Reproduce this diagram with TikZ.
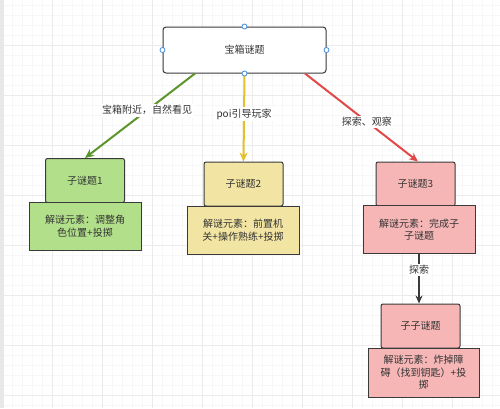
\documentclass[tikz,border=0pt]{standalone}
\usepackage{fontspec}
\setmainfont{Noto Sans CJK SC}
\usetikzlibrary{arrows.meta}
\definecolor{boxline}{HTML}{3a3a3a}
\definecolor{labeltext}{HTML}{333333}
\definecolor{greenfill}{RGB}{178,224,138}
\definecolor{yellowfill}{RGB}{242,228,162}
\definecolor{redfill}{RGB}{246,182,182}
\definecolor{greenline}{RGB}{92,150,42}
\definecolor{yellowline}{RGB}{230,192,40}
\definecolor{redline}{RGB}{226,72,72}
\definecolor{handle}{RGB}{70,140,215}
\begin{document}
\begin{tikzpicture}[x=1pt,y=-1pt,
    box/.style={draw=boxline,line width=1pt,inner sep=0pt,text=labeltext,
      font=\fontsize{10}{12.5}\selectfont,align=center},
    titlebox/.style={box,rounded corners=2pt,minimum width=79pt,minimum height=44pt},
    infobox/.style={box,minimum width=112pt,minimum height=48pt},
    link/.style={line width=2pt,-{Stealth[length=9pt,width=8pt]}},
    linklabel/.style={fill=white,text=labeltext,inner sep=1.5pt,font=\fontsize{10}{12}\selectfont},
    dot/.style={circle,draw=handle,fill=white,line width=0.8pt,inner sep=0pt,minimum size=5pt}]
  % background and grid
  \useasboundingbox (0,0) rectangle (500,408);
  \fill[white] (0,0) rectangle (500,408);
  \foreach \x in {2,12,...,492} \draw[black!3,line width=0.5pt] (\x,0) -- (\x,408);
  \foreach \y in {5,15,...,405} \draw[black!3,line width=0.5pt] (0,\y) -- (500,\y);
  \foreach \x in {2,52,...,452} \draw[black!8,line width=0.6pt] (\x,0) -- (\x,408);
  \foreach \y in {45,95,...,395} \draw[black!8,line width=0.6pt] (0,\y) -- (500,\y);
  \fill[black!9] (0,0) rectangle (4,408);

  % main puzzle
  \node[box,rounded corners=3pt,fill=white,minimum width=163pt,minimum height=46pt]
    (main) at (244.5,50) {宝箱谜题};

  % sub puzzles
  \node[titlebox,fill=greenfill] (suba) at (85,180.5) {子谜题1};
  \node[infobox,fill=greenfill] (suba info) at (85,226) {解谜元素：调整角\\色位置+投掷};
  \node[titlebox,fill=yellowfill] (subb) at (243.5,184) {子谜题2};
  \node[infobox,fill=yellowfill] (subb info) at (243,230) {解谜元素：前置机\\关+操作熟练+投掷};
  \node[titlebox,fill=redfill] (subc) at (415.5,184) {子谜题3};
  \node[infobox,fill=redfill] (subc info) at (419,229.5) {解谜元素：完成子\\子谜题};
  \node[titlebox,fill=redfill] (subsub) at (420.5,326) {子子谜题};
  \node[infobox,fill=redfill,minimum width=111pt,minimum height=49pt]
    (subsub info) at (423.5,372.5) {解谜元素：炸掉障\\碍（找到钥匙）+投\\掷};

  % links
  \draw[link,greenline] ([xshift=-49.5pt]main.south) -- (suba.north)
    node[linklabel,pos=0.435] {宝箱附近，自然看见};
  \draw[link,yellowline] (main.south) -- (subb.north)
    node[linklabel,pos=0.46] {poi引导玩家};
  \draw[link,redline] ([xshift=60.5pt]main.south) -- ([xshift=2.5pt]subc.north)
    node[linklabel,pos=0.547] {探索、观察};
  \draw[boxline,line width=1.2pt,-{Stealth[length=8pt,width=7pt]}] (subc info.south) -- (subc info.south |- subsub.north)
    node[linklabel,pos=0.32] {探索};

  % selection handles
  \foreach \a in {north,south,west,east} \node[dot] at (main.\a) {};
\end{tikzpicture}
\end{document}
